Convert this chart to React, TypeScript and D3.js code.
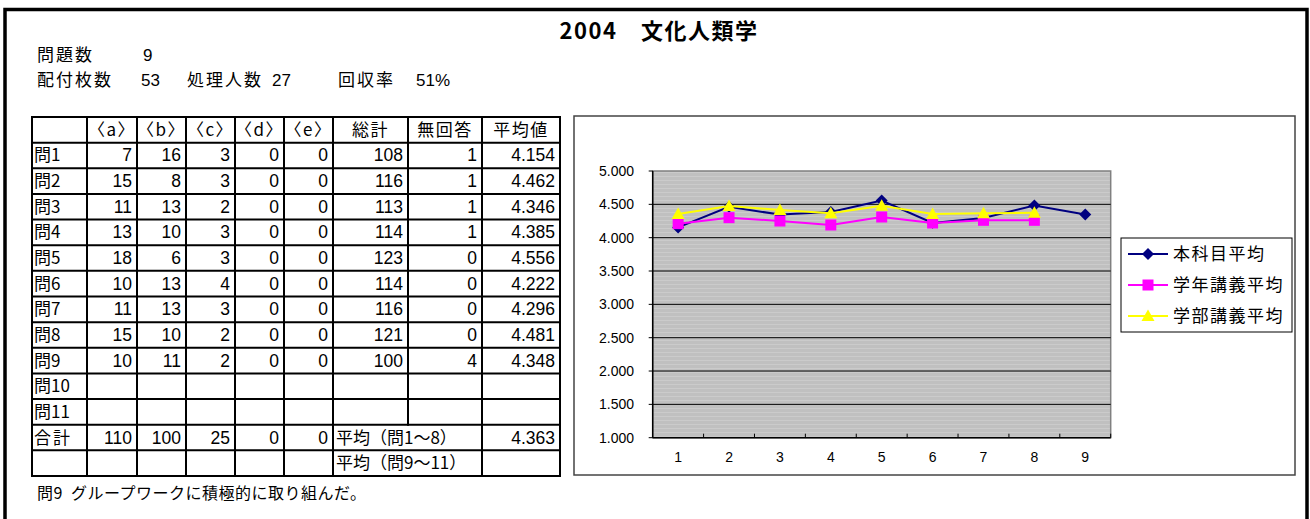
import React from 'react'
import * as d3 from 'd3'

// table data
const headerLabels = ['', '〈a〉', '〈b〉', '〈c〉', '〈d〉', '〈e〉', '総計', '無回答', '平均値']
const questionLabels = ['問1', '問2', '問3', '問4', '問5', '問6', '問7', '問8', '問9', '問10', '問11']
const countA = [7, 15, 11, 13, 18, 10, 11, 15, 10]
const countB = [16, 8, 13, 10, 6, 13, 13, 10, 11]
const countC = [3, 3, 2, 3, 3, 4, 3, 2, 2]
const countD = [0, 0, 0, 0, 0, 0, 0, 0, 0]
const countE = [0, 0, 0, 0, 0, 0, 0, 0, 0]
const totals = [108, 116, 113, 114, 123, 114, 116, 121, 100]
const noAnswer = [1, 1, 1, 1, 0, 0, 0, 0, 4]
const sumRow = [110, 100, 25, 0, 0]
const meanLabels = ['平均（問1〜8）', '平均（問9〜11）']
const meanValues = ['4.363', '']

// chart data
const xCategories = ['1', '2', '3', '4', '5', '6', '7', '8', '9']
const courseMean = [4.154, 4.462, 4.346, 4.385, 4.556, 4.222, 4.296, 4.481, 4.348]
const gradeMean = [4.21, 4.3, 4.25, 4.19, 4.31, 4.22, 4.26, 4.26]
const facultyMean = [4.355, 4.475, 4.415, 4.365, 4.48, 4.355, 4.365, 4.375]
const seriesNames = ['本科目平均', '学年講義平均', '学部講義平均']
const seriesColors = ['#000080', '#ff00ff', '#ffff00']

const JP = '"Noto Sans CJK JP", sans-serif'
const NUM = '"Liberation Sans", Arial, sans-serif'

// table layout
const colEdges = [32, 87, 137, 186, 235, 284, 333, 408, 482, 560]
const tableTop = 117
const tableBottom = 476
const rowCount = 14

function Table() {
  const rowY = d3.scaleLinear().domain([0, rowCount]).range([tableTop, tableBottom])
  const mid = (r: number) => (rowY(r) + rowY(r + 1)) / 2 + 6
  const cellRight = (c: number) => colEdges[c + 1] - 5
  const lines: React.ReactNode[] = []
  for (let r = 0; r <= rowCount; r++) {
    lines.push(<line key={'h' + r} x1={colEdges[0]} x2={colEdges[9]} y1={rowY(r)} y2={rowY(r)} />)
  }
  colEdges.forEach((x, c) => {
    // 総計 / 無回答 are merged in the last two rows
    const y2 = c === 7 ? rowY(12) : tableBottom
    lines.push(<line key={'v' + c} x1={x} x2={x} y1={tableTop - 1} y2={y2 + 1} />)
  })

  const numRows = questionLabels.map((_, i) =>
    i < totals.length
      ? [countA[i], countB[i], countC[i], countD[i], countE[i], totals[i], noAnswer[i]]
      : []
  )

  return (
    <g>
      <g stroke="#000" strokeWidth={2}>{lines}</g>
      <g fontFamily={JP} fontSize={17} fill="#000">
        {headerLabels.map((h, c) => (
          <text key={'hd' + c} x={(colEdges[c] + colEdges[c + 1]) / 2} y={mid(0)} textAnchor="middle" letterSpacing={1.5}>{h}</text>
        ))}
        {questionLabels.map((q, i) => (
          <text key={'q' + i} x={colEdges[0] + 2} y={mid(i + 1)}>{q}</text>
        ))}
        <text x={colEdges[0] + 2} y={mid(12)} letterSpacing={2}>合計</text>
        {meanLabels.map((m, i) => (
          <text key={'m' + i} x={colEdges[6] + 3} y={mid(12 + i)}>{m}</text>
        ))}
      </g>
      <g fontFamily={NUM} fontSize={17.5} fill="#000" textAnchor="end">
        {numRows.map((row, i) =>
          row.map((v, c) => (
            <text key={`n${i}-${c}`} x={cellRight(c + 1)} y={mid(i + 1)}>{v}</text>
          ))
        )}
        {courseMean.map((v, i) => (
          <text key={'mv' + i} x={cellRight(8)} y={mid(i + 1)}>{d3.format('.3f')(v)}</text>
        ))}
        {sumRow.map((v, c) => (
          <text key={'s' + c} x={cellRight(c + 1)} y={mid(12)}>{v}</text>
        ))}
        {meanValues.map((v, i) => (
          <text key={'ov' + i} x={cellRight(8)} y={mid(12 + i)}>{v}</text>
        ))}
      </g>
    </g>
  )
}

function Chart() {
  const x = d3.scaleBand().domain(xCategories).range([652.7, 1110.7])
  const y = d3.scaleLinear().domain([1, 5]).range([437.7, 171])
  const cx = (i: number) => (x(xCategories[i]) ?? 0) + x.bandwidth() / 2
  const line = d3.line<number>().x((_, i) => cx(i)).y(d => y(d))
  const [x0, x1] = x.range()
  const ticks = y.ticks(8)
  const fmt = d3.format('.3f')
  const diamond = 'M0,-6L6,0L0,6L-6,0Z'
  const square = 'M-5.5,-5.5H5.5V5.5H-5.5Z'
  const triangle = 'M0,-6.5L6.5,5L-6.5,5Z'
  const markers = [diamond, square, triangle]
  const series = [courseMean, gradeMean, facultyMean]

  return (
    <g>
      <defs>
        <pattern id="hstripe" width={8} height={4} patternUnits="userSpaceOnUse">
          <rect width={8} height={4} fill="#c0c0c0" />
          <rect y={0} width={8} height={1} fill="#cbcbcb" />
        </pattern>
      </defs>
      <rect x={574} y={116} width={721} height={359} fill="#fff" stroke="#444" strokeWidth={1.5} />
      <rect x={x0} y={y(5)} width={x1 - x0} height={y(1) - y(5)} fill="url(#hstripe)" stroke="#808080" strokeWidth={1.5} />
      {ticks.filter(t => t > 1 && t < 5).map(t => (
        <line key={'g' + t} x1={x0} x2={x1} y1={y(t)} y2={y(t)} stroke="#000" strokeWidth={1} />
      ))}
      <line x1={x0} x2={x0} y1={y(5)} y2={y(1)} stroke="#000" strokeWidth={1.5} />
      <line x1={x0} x2={x1} y1={y(1)} y2={y(1)} stroke="#000" strokeWidth={1.5} />
      {ticks.map(t => (
        <g key={'yt' + t}>
          <line x1={x0 - 4} x2={x0} y1={y(t)} y2={y(t)} stroke="#000" />
          <text x={634} y={y(t) + 5} textAnchor="end" fontFamily={NUM} fontSize={14} fill="#000">{fmt(t)}</text>
        </g>
      ))}
      {xCategories.map((c, i) => (
        <g key={'xt' + c}>
          <line x1={(x(c) ?? 0) + x.bandwidth()} x2={(x(c) ?? 0) + x.bandwidth()} y1={y(1) - 4} y2={y(1)} stroke="#000" />
          <text x={cx(i)} y={462} textAnchor="middle" fontFamily={NUM} fontSize={14} fill="#000">{c}</text>
        </g>
      ))}
      {series.map((s, k) => (
        <g key={'s' + k}>
          <path d={line(s) ?? ''} fill="none" stroke={seriesColors[k]} strokeWidth={2} />
          {s.map((v, i) => (
            <path key={i} d={markers[k]} transform={`translate(${cx(i)},${y(v)})`} fill={seriesColors[k]} />
          ))}
        </g>
      ))}
      <rect x={1121} y={238} width={171} height={94} fill="#fff" stroke="#000" strokeWidth={1} />
      {seriesNames.map((n, k) => {
        const ly = 254 + k * 31
        return (
          <g key={'lg' + k}>
            <line x1={1128} x2={1168} y1={ly} y2={ly} stroke={seriesColors[k]} strokeWidth={2} />
            <path d={markers[k]} transform={`translate(1148,${ly})`} fill={seriesColors[k]} />
            <text x={1173} y={ly + 6} fontFamily={JP} fontSize={17} letterSpacing={1.5} fill="#000">{n}</text>
          </g>
        )
      })}
    </g>
  )
}

export default function App() {
  return (
    <div style={{ position: 'absolute', left: 0, top: 0 }}>
      <svg width={1310} height={519} style={{ display: 'block', background: '#fff' }}>
        <rect x={5} y={9.5} width={1302} height={600} fill="none" stroke="#000" strokeWidth={3.5} />
        <text x={659} y={39} textAnchor="middle" fontFamily={JP} fontSize={22} fontWeight="bold" letterSpacing={1.5} fill="#000">2004　文化人類学</text>
        <g fontFamily={JP} fontSize={17} fill="#000">
          <text x={37} y={61} letterSpacing={2}>問題数</text>
          <text x={143} y={61} fontFamily={NUM} fontSize={17}>9</text>
          <text x={37} y={86} letterSpacing={2}>配付枚数</text>
          <text x={141} y={86} fontFamily={NUM} fontSize={17}>53</text>
          <text x={187} y={86} letterSpacing={2}>処理人数</text>
          <text x={272} y={86} fontFamily={NUM} fontSize={17}>27</text>
          <text x={338} y={86} letterSpacing={2}>回収率</text>
          <text x={416} y={86} fontFamily={NUM} fontSize={17}>51%</text>
        </g>
        <Table />
        <Chart />
        <text x={37} y={499} fontFamily={JP} fontSize={16} letterSpacing={0.5} fill="#000" style={{ whiteSpace: 'pre' }}>問9  グループワークに積極的に取り組んだ。</text>
      </svg>
    </div>
  )
}
